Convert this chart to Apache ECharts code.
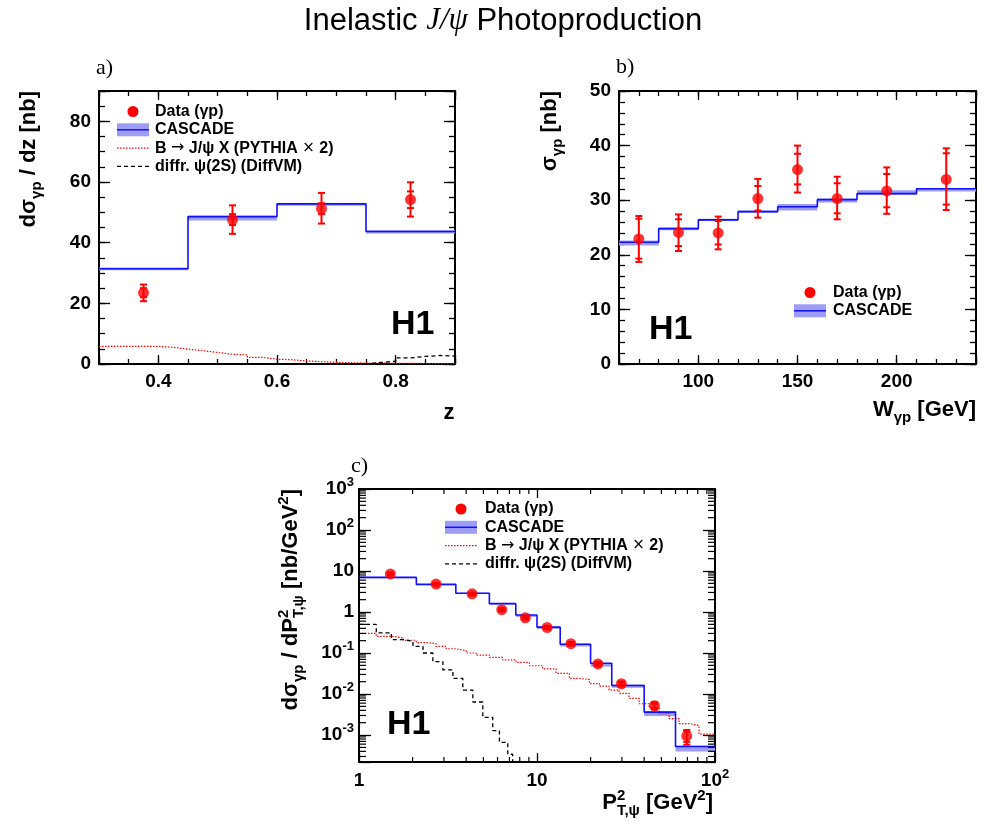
<!DOCTYPE html>
<html><head><meta charset="utf-8">
<script src="https://cdn.jsdelivr.net/npm/echarts@6/dist/echarts.min.js"></script>
<style>html,body{margin:0;padding:0;background:#fff}#c{width:988px;height:826px}</style>
</head><body><div id="c"></div><script>
// ---------- Panel a: d sigma / dz ----------
const zEdges = [0.3, 0.45, 0.6, 0.75, 0.9];
const zCascade = [31.4, 48.6, 52.8, 43.7];
const zCascadeLo = [30.9, 47.3, 52.2, 43.0];
const zCascadeHi = [31.8, 48.9, 53.1, 44.1];
const zDataX = [0.375, 0.525, 0.675, 0.825];
const zDataY = [23.5, 47.6, 51.2, 54.2];
const zTotLo = [20.7, 42.9, 46.3, 48.6];
const zTotHi = [26.2, 52.3, 56.4, 59.9];
const zStatLo = [22.0, 45.8, 49.4, 51.4];
const zStatHi = [25.0, 49.4, 53.0, 56.9];
const zBEdges = [0.3, 0.4, 0.425, 0.45, 0.475, 0.5, 0.525, 0.55, 0.575, 0.6, 0.625, 0.65, 0.7, 0.75, 0.9];
const zBVals = [5.8, 5.5, 4.9, 4.4, 3.8, 3.2, 3.0, 2.2, 1.6, 1.4, 1.0, 0.55, 0.3, 0.1];
const zPsiEdges = [0.3, 0.75, 0.775, 0.8, 0.825, 0.85, 0.875, 0.9];
const zPsiVals = [0.0, 0.5, 0.9, 2.0, 2.5, 2.8, 2.6];

// ---------- Panel b: sigma vs W ----------
const wEdges = [60, 80, 100, 120, 140, 160, 180, 210, 240];
const wCascade = [22.3, 24.8, 26.4, 27.9, 28.8, 30.1, 31.2, 32.1];
const wCascadeLo = [21.7, 24.5, 26.2, 27.7, 28.1, 29.6, 31.0, 31.6];
const wCascadeHi = [22.6, 25.0, 26.6, 28.1, 29.3, 30.3, 31.8, 32.2];
const wDataX = [70, 90, 110, 130, 150, 170, 195, 225];
const wDataY = [22.9, 24.1, 24.0, 30.3, 35.6, 30.3, 31.7, 33.8];
const wTotLo = [18.7, 20.7, 21.0, 26.8, 31.4, 26.5, 27.5, 28.2];
const wTotHi = [27.1, 27.4, 27.0, 33.9, 40.0, 34.3, 36.0, 39.5];
const wStatLo = [19.3, 21.6, 21.9, 28.1, 32.9, 27.6, 28.7, 29.2];
const wStatHi = [26.6, 26.5, 26.2, 32.6, 38.5, 33.1, 34.8, 38.6];

// ---------- Panel c: d sigma / dPt^2 ----------
const ptEdges = [1, 2.1, 3.5, 5.4, 7.6, 10, 13.5, 20, 26.3, 40, 60, 100];
const ptCascade = [7.0, 4.72, 2.88, 1.60, 0.844, 0.427, 0.163, 0.0564, 0.0162, 0.00363, 0.000527];
const ptCascadeLo = [6.7, 4.5, 2.75, 1.52, 0.76, 0.388, 0.145, 0.0467, 0.0142, 0.0029, 0.000396];
const ptCascadeHi = [7.1, 4.8, 2.95, 1.65, 0.85, 0.435, 0.169, 0.0564, 0.0171, 0.0038, 0.000547];
const ptDataX = [1.5, 2.71, 4.32, 6.34, 8.6, 11.4, 15.5, 22.0, 29.8, 45.7, 69.4];
const ptDataY = [8.5, 4.81, 2.78, 1.14, 0.725, 0.419, 0.169, 0.0543, 0.0178, 0.0052, 0.00095];
const ptTotLo = [7.8, 4.4, 2.55, 1.04, 0.66, 0.38, 0.152, 0.048, 0.0155, 0.0042, 0.00058];
const ptTotHi = [9.2, 5.2, 3.0, 1.24, 0.79, 0.46, 0.186, 0.061, 0.0202, 0.0063, 0.00133];
const ptStatLo = [8.2, 4.6, 2.67, 1.09, 0.69, 0.40, 0.160, 0.051, 0.0165, 0.0046, 0.00068];
const ptStatHi = [8.8, 5.0, 2.89, 1.19, 0.76, 0.44, 0.178, 0.058, 0.0191, 0.0058, 0.00122];
const ptBEdges = [1, 1.25, 1.55, 1.77, 2.1, 2.39, 2.71, 3.09, 3.51, 4.0, 4.55, 5.4, 6.42, 7.62, 9.06, 10.76, 12.8, 15.2, 17.3, 19.7, 22.4, 25.4, 28.9, 32.9, 37.5, 42.7, 48.5, 55.2, 62.8, 71.5, 81.3, 100];
const ptBVals = [0.30, 0.256, 0.233, 0.205, 0.18, 0.17, 0.145, 0.127, 0.114, 0.10, 0.089, 0.078, 0.068, 0.059, 0.049, 0.041, 0.032, 0.024, 0.0227, 0.018, 0.0156, 0.0125, 0.0104, 0.0078, 0.0058, 0.0047, 0.0033, 0.0025, 0.0019, 0.0017, 0.00105];
const ptPsiEdges = [1, 1.25, 1.52, 1.77, 2.01, 2.29, 2.6, 2.96, 3.37, 3.83, 4.36, 4.96, 5.64, 6.15, 6.85, 7.3, 8];
const ptPsiVals = [0.497, 0.31, 0.212, 0.193, 0.145, 0.1, 0.062, 0.039, 0.024, 0.0125, 0.0064, 0.0027, 0.00128, 0.00066, 0.00034, 0.00012];
const ptMinorTicksX = [2, 3, 4, 5, 6, 7, 8, 9, 20, 30, 40, 50, 60, 70, 80, 90];
const ptMinorTicksY = [3e-4, 4e-4, 5e-4, 6e-4, 7e-4, 8e-4, 9e-4,
  2e-3, 3e-3, 4e-3, 5e-3, 6e-3, 7e-3, 8e-3, 9e-3,
  0.02, 0.03, 0.04, 0.05, 0.06, 0.07, 0.08, 0.09,
  0.2, 0.3, 0.4, 0.5, 0.6, 0.7, 0.8, 0.9,
  2, 3, 4, 5, 6, 7, 8, 9, 20, 30, 40, 50, 60, 70, 80, 90,
  200, 300, 400, 500, 600, 700, 800, 900];

// ---------- styling ----------
const FF = '"Liberation Sans", Arial, Helvetica, sans-serif';
const RED = '#ff0000', BLUE = '#1010ff', BAND = '#9d9df6';
const GA = {left: 99, top: 91, width: 356, height: 273};
const GB = {left: 619, top: 91, width: 357, height: 273};
const GC = {left: 359, top: 489, width: 356, height: 273};

function ax(o, tickLen, showLine, label) {
  const a = Object.assign({
    type: 'value', splitLine: {show: false},
    axisLine: {show: showLine, onZero: false, lineStyle: {color: '#000', width: 2}},
    axisTick: {show: true, inside: true, length: tickLen, lineStyle: {color: '#000', width: 1.3}},
    axisLabel: {show: false},
    minorTick: {show: false}, minorSplitLine: {show: false}
  }, o);
  if (label) a.axisLabel = Object.assign({show: true, color: '#000', fontSize: 19, fontWeight: 'bold', fontFamily: FF, margin: 8}, label);
  return a;
}
const near = (v, s) => Math.abs(v / s - Math.round(v / s)) < 1e-6;
const logLabel = v => {
  const l = Math.log10(v), r = Math.round(l);
  if (Math.abs(l - r) > 1e-6) return '';
  if (r === 0) return '{b|1}';
  if (r === 1) return '{b|10}';
  return '{b|10}{u|' + r + '}';
};
const logRich = {
  b: {fontSize: 19, fontWeight: 'bold', fontFamily: FF, color: '#000', lineHeight: 26},
  u: {fontSize: 13, fontWeight: 'bold', fontFamily: FF, color: '#000', lineHeight: 13, verticalAlign: 'top'}
};

const xAxis = [
  ax({gridIndex: 0, min: 0.3, max: 0.9, splitNumber: 3, position: 'bottom'}, 9, true, {formatter: v => near(v, 0.2) ? v.toFixed(1) : ''}),
  ax({gridIndex: 0, min: 0.3, max: 0.9, splitNumber: 3, position: 'top'}, 9, true),
  ax({gridIndex: 1, min: 0.3, max: 0.9, interval: 0.05, position: 'bottom'}, 5, false),
  ax({gridIndex: 1, min: 0.3, max: 0.9, interval: 0.05, position: 'top'}, 5, false),
  ax({gridIndex: 2, min: 60, max: 240, splitNumber: 4, position: 'bottom'}, 9, true, {formatter: v => near(v, 50) ? String(v) : ''}),
  ax({gridIndex: 2, min: 60, max: 240, splitNumber: 4, position: 'top'}, 9, true),
  ax({gridIndex: 3, min: 60, max: 240, interval: 10, position: 'bottom'}, 5, false),
  ax({gridIndex: 3, min: 60, max: 240, interval: 10, position: 'top'}, 5, false),
  ax({gridIndex: 4, type: 'log', logBase: 10, min: 1, max: 100, position: 'bottom'}, 9, true, {formatter: logLabel, rich: logRich, margin: 6}),
  ax({gridIndex: 4, type: 'log', logBase: 10, min: 1, max: 100, position: 'top'}, 9, true)
];
const yAxis = [
  ax({gridIndex: 0, min: 0, max: 90, interval: 20, position: 'left'}, 11, true, {formatter: v => near(v, 20) ? String(v) : ''}),
  ax({gridIndex: 0, min: 0, max: 90, interval: 20, position: 'right'}, 11, true),
  ax({gridIndex: 1, min: 0, max: 90, interval: 5, position: 'left'}, 6, false),
  ax({gridIndex: 1, min: 0, max: 90, interval: 5, position: 'right'}, 6, false),
  ax({gridIndex: 2, min: 0, max: 50, interval: 10, position: 'left'}, 11, true, {formatter: v => String(v)}),
  ax({gridIndex: 2, min: 0, max: 50, interval: 10, position: 'right'}, 11, true),
  ax({gridIndex: 3, min: 0, max: 50, interval: 2, position: 'left'}, 6, false),
  ax({gridIndex: 3, min: 0, max: 50, interval: 2, position: 'right'}, 6, false),
  ax({gridIndex: 4, type: 'log', logBase: 10, min: 2.2e-4, max: 1000, position: 'left'}, 12, true, {formatter: logLabel, rich: logRich, margin: 5}),
  ax({gridIndex: 4, type: 'log', logBase: 10, min: 2.2e-4, max: 1000, position: 'right'}, 12, true)
];

const stepData = (edges, vals) => edges.map((e, i) => [e, vals[Math.min(i, vals.length - 1)]]);
const bandData = (edges, lo, hi) => lo.map((l, i) => [edges[i], edges[i + 1], l, hi[i]]);
const errData = (x, tl, th, sl, sh) => x.map((v, i) => [v, tl[i], th[i], sl[i], sh[i]]);

function bandSeries(xi, data) {
  return {type: 'custom', xAxisIndex: xi, yAxisIndex: xi, z: 1, data: data,
    encode: {x: [0, 1], y: [2, 3]},
    renderItem: (p, api) => {
      const a = api.coord([api.value(0), api.value(3)]);
      const b = api.coord([api.value(1), api.value(2)]);
      return {type: 'rect', shape: {x: a[0], y: a[1], width: b[0] - a[0], height: Math.max(b[1] - a[1], 1)}, style: {fill: BAND}};
    }};
}
function stepSeries(xi, data, color, width, dash, z) {
  return {type: 'line', xAxisIndex: xi, yAxisIndex: xi, data: data, step: 'end', symbol: 'none', z: z,
    lineStyle: {color: color, width: width, type: dash}, silent: true};
}
function errSeries(xi, data) {
  return {type: 'custom', xAxisIndex: xi, yAxisIndex: xi, z: 4, data: data,
    encode: {x: 0, y: [1, 2]},
    renderItem: (p, api) => {
      const x = api.value(0);
      const lo = api.coord([x, api.value(1)]), hi = api.coord([x, api.value(2)]);
      const sl = api.coord([x, api.value(3)]), sh = api.coord([x, api.value(4)]);
      const st = {stroke: RED, lineWidth: 2};
      const w = 3.5;
      const cap = q => ({type: 'line', shape: {x1: q[0] - w, y1: q[1], x2: q[0] + w, y2: q[1]}, style: st});
      return {type: 'group', children: [
        {type: 'line', shape: {x1: lo[0], y1: lo[1], x2: hi[0], y2: hi[1]}, style: st},
        cap(lo), cap(hi), cap(sl), cap(sh)
      ]};
    }};
}
function dataSeries(xi, xs, ys) {
  return {type: 'scatter', xAxisIndex: xi, yAxisIndex: xi, z: 5, symbol: 'circle', symbolSize: 11,
    itemStyle: {color: RED}, data: xs.map((v, i) => [v, ys[i]])};
}

const series = [
  bandSeries(0, bandData(zEdges, zCascadeLo, zCascadeHi)),
  stepSeries(0, stepData(zEdges, zCascade), BLUE, 1.6, 'solid', 3),
  stepSeries(0, stepData(zBEdges, zBVals), RED, 1.2, [1.5, 1.5], 2),
  stepSeries(0, stepData(zPsiEdges, zPsiVals), '#000', 1.3, [4, 3], 2),
  errSeries(0, errData(zDataX, zTotLo, zTotHi, zStatLo, zStatHi)),
  dataSeries(0, zDataX, zDataY),
  bandSeries(4, bandData(wEdges, wCascadeLo, wCascadeHi)),
  stepSeries(4, stepData(wEdges, wCascade), BLUE, 1.6, 'solid', 3),
  errSeries(4, errData(wDataX, wTotLo, wTotHi, wStatLo, wStatHi)),
  dataSeries(4, wDataX, wDataY),
  bandSeries(8, bandData(ptEdges, ptCascadeLo, ptCascadeHi)),
  stepSeries(8, stepData(ptEdges, ptCascade), BLUE, 1.6, 'solid', 3),
  stepSeries(8, stepData(ptBEdges, ptBVals), RED, 1.2, [1.5, 1.5], 2),
  stepSeries(8, stepData(ptPsiEdges, ptPsiVals), '#000', 1.3, [4, 3], 2),
  errSeries(8, errData(ptDataX, ptTotLo, ptTotHi, ptStatLo, ptStatHi)),
  dataSeries(8, ptDataX, ptDataY),
  {type: 'custom', xAxisIndex: 8, yAxisIndex: 8, z: 6, silent: true, data: ptMinorTicksX.map(v => [v, 1]),
    renderItem: (p, api) => {
      const cs = p.coordSys, q = api.coord([api.value(0), 1]);
      const st = {stroke: '#000', lineWidth: 1.2};
      return {type: 'group', children: [
        {type: 'line', shape: {x1: q[0], y1: cs.y + cs.height, x2: q[0], y2: cs.y + cs.height - 5}, style: st},
        {type: 'line', shape: {x1: q[0], y1: cs.y, x2: q[0], y2: cs.y + 5}, style: st}]};
    }},
  {type: 'custom', xAxisIndex: 8, yAxisIndex: 8, z: 6, silent: true, data: ptMinorTicksY.map(v => [1, v]),
    renderItem: (p, api) => {
      const cs = p.coordSys, q = api.coord([1, api.value(1)]);
      const st = {stroke: '#000', lineWidth: 1.2};
      return {type: 'group', children: [
        {type: 'line', shape: {x1: cs.x, y1: q[1], x2: cs.x + 7, y2: q[1]}, style: st},
        {type: 'line', shape: {x1: cs.x + cs.width, y1: q[1], x2: cs.x + cs.width - 7, y2: q[1]}, style: st}]};
    }}
];

// ---------- text / legend graphics ----------
const RT = {
  m: {align: 'left', fontSize: 22, fontWeight: 'bold', fontFamily: FF, fill: '#000', lineHeight: 30},
  s: {align: 'left', fontSize: 15, fontWeight: 'bold', fontFamily: FF, fill: '#000', lineHeight: 14, verticalAlign: 'bottom'},
  p: {align: 'left', fontSize: 15, fontWeight: 'bold', fontFamily: FF, fill: '#000', lineHeight: 14, verticalAlign: 'top'},
  p0: {align: 'left', fontSize: 15, fontWeight: 'bold', fontFamily: FF, fill: '#000', lineHeight: 14, verticalAlign: 'top', width: 0}
};
function txt(x, y, text, align, vAlign, extra) {
  return Object.assign({type: 'text', x: x, y: y, silent: true,
    style: {text: text, align: align, textAlign: align, verticalAlign: vAlign, textVerticalAlign: vAlign,
      fill: '#000', font: 'bold 22px ' + FF, rich: RT}}, extra || {});
}
function plain(x, y, text, font, align) {
  return {type: 'text', x: x, y: y, silent: true,
    style: {text: text, font: font, fill: '#000', align: align || 'left', textAlign: align || 'left', verticalAlign: 'middle', textVerticalAlign: 'middle'}};
}
const LF = 'bold 16px ' + FF;
const LRICH = {
  t: {fontSize: 16, fontWeight: 'bold', fontFamily: FF, fill: '#000'},
  a: {fontSize: 16, fontFamily: '"DejaVu Sans", sans-serif', fill: '#000'},
  x: {fontSize: 15, fontFamily: '"DejaVu Sans", sans-serif', fill: '#000'}
};
function legendRows(x0, xt, y0, rows) {
  const els = [];
  rows.forEach((r, i) => {
    const y = y0 + i * 18.3;
    if (r === 'data') {
      els.push({type: 'circle', shape: {cx: x0 + 16, cy: y, r: 5.5}, style: {fill: RED}, silent: true});
      els.push(plain(xt, y, 'Data (γp)', LF));
    } else if (r === 'cascade') {
      els.push({type: 'rect', shape: {x: x0, y: y - 6.5, width: 32, height: 13}, style: {fill: BAND}, silent: true});
      els.push({type: 'line', shape: {x1: x0, y1: y, x2: x0 + 32, y2: y}, style: {stroke: BLUE, lineWidth: 1.5}, silent: true});
      els.push(plain(xt, y, 'CASCADE', LF));
    } else if (r === 'b') {
      els.push({type: 'line', shape: {x1: x0, y1: y, x2: x0 + 32, y2: y}, style: {stroke: RED, lineWidth: 1.2, lineDash: [1.5, 1.5]}, silent: true});
      els.push({type: 'text', x: xt, y: y, silent: true, style: {text: '{t|B }{a|→}{t| J/ψ X (PYTHIA }{x|×}{t| 2)}', rich: LRICH,
        align: 'left', textAlign: 'left', verticalAlign: 'middle', textVerticalAlign: 'middle', fill: '#000', font: LF}});
    } else {
      els.push({type: 'line', shape: {x1: x0, y1: y, x2: x0 + 32, y2: y}, style: {stroke: '#000', lineWidth: 1.3, lineDash: [4, 3]}, silent: true});
      els.push(plain(xt, y, 'diffr. ψ(2S) (DiffVM)', LF));
    }
  });
  return els;
}

const graphics = [
  {type: 'text', x: 503, y: 21, silent: true, style: {
    text: '{n|Inelastic }{j|J/ψ}{n| Photoproduction}', align: 'center', textAlign: 'center', verticalAlign: 'middle', textVerticalAlign: 'middle',
    rich: {n: {fontSize: 31, fontFamily: FF, fill: '#000'}, j: {fontSize: 31, fontStyle: 'italic', fontFamily: '"Liberation Serif", "DejaVu Serif", serif', fill: '#000'}}}},
  plain(96, 68, 'a)', '22px "Liberation Serif", serif'),
  plain(616, 67, 'b)', '22px "Liberation Serif", serif'),
  plain(351, 466, 'c)', '22px "Liberation Serif", serif'),
  plain(391, 325, 'H1', 'bold 34px ' + FF),
  plain(649, 330, 'H1', 'bold 34px ' + FF),
  plain(387, 725, 'H1', 'bold 34px ' + FF),
  txt(29, 91, '{m|dσ}{s|γp}{m| / dz [nb]}', 'right', 'middle', {rotation: Math.PI / 2}),
  txt(449, 413, '{m|z}', 'center', 'middle'),
  txt(550, 91, '{m|σ}{s|γp}{m| [nb]}', 'right', 'middle', {rotation: Math.PI / 2}),
  txt(976, 410, '{m|W}{s|γp}{m| [GeV]}', 'right', 'middle'),
  txt(291, 489, '{m|dσ}{s|γp}{m| / dP}{p0|2}{s|T,ψ}{m| [nb/GeV}{p|2}{m|]}', 'right', 'middle', {rotation: Math.PI / 2}),
  txt(713, 803, '{m|P}{p0|2}{s|T,ψ}{m| [GeV}{p|2}{m|]}', 'right', 'middle')
].concat(
  legendRows(117, 155, 111.5, ['data', 'cascade', 'b', 'psi']),
  legendRows(794, 833, 292.5, ['data', 'cascade']),
  legendRows(445, 485, 509, ['data', 'cascade', 'b', 'psi'])
);

const grids = [GA, GA, GB, GB, GC].map(g => Object.assign({containLabel: false, outerBoundsMode: 'none'}, g));

const chart = echarts.init(document.getElementById('c'), null, {renderer: 'canvas'});
chart.setOption({
  animation: false,
  backgroundColor: '#fff',
  grid: grids,
  xAxis: xAxis,
  yAxis: yAxis,
  series: series,
  graphic: {elements: graphics}
});
</script></body></html>
